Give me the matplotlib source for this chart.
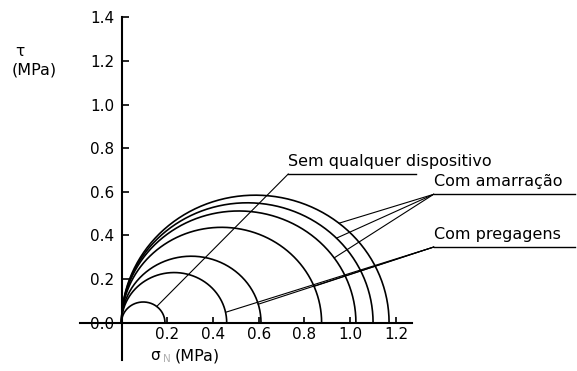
import numpy as np
import matplotlib.pyplot as plt

# Mohr circles, all starting at sigma_3 = 0 (diameter = sigma_1 in MPa)
diameters = [0.19, 0.46, 0.61, 0.875, 1.025, 1.10, 1.17]

xticks = [0.2, 0.4, 0.6, 0.8, 1.0, 1.2]
yticks = [0.0, 0.2, 0.4, 0.6, 0.8, 1.0, 1.2, 1.4]

# leader lines: label, anchor (start of underline), circle index, x where it touches the circle
labels = ['Sem qualquer dispositivo', 'Com amarração', 'Com pregagens']
anchors = [(0.729, 0.682), (1.365, 0.589), (1.365, 0.347)]
underline_end = [1.288, 1.985, 1.985]
targets = [[(0, 0.154)],
           [(6, 0.951), (5, 0.94), (4, 0.93)],
           [(1, 0.455), (2, 0.598), (3, 0.842)]]

W, H = 577, 371
fig = plt.figure(figsize=(W / 100, H / 100), dpi=100)

# axes placed so that origin sits at (121.5, 322.7) px
x0, y0, sx, sy = 121.5, 322.7, 228.7, 218.0
xmin, xmax, ymin, ymax = -0.18, 1.27, -0.17, 1.4
left = (x0 + xmin * sx) / W
right = (x0 + xmax * sx) / W
top = 1 - (y0 - ymax * sy) / H
bottom = 1 - (y0 - ymin * sy) / H
ax = fig.add_axes([left, bottom, right - left, top - bottom])
ax.set_xlim(xmin, xmax)
ax.set_ylim(ymin, ymax)

for s in ['top', 'right']:
    ax.spines[s].set_visible(False)
for s in ['left', 'bottom']:
    ax.spines[s].set_position(('data', 0))
    ax.spines[s].set_linewidth(1.5)

ax.set_xticks(xticks)
ax.set_xticklabels([f'{v:.1f}' for v in xticks])
ax.set_yticks(yticks)
ax.set_yticklabels([f'{v:.1f}' for v in yticks])
ax.tick_params(axis='x', direction='in', length=4.5, width=1.2, pad=3, labelsize=11)
ax.tick_params(axis='y', direction='in', length=5, width=1.2, pad=5, labelsize=11)

t = np.linspace(0, np.pi, 200)
for d in diameters:
    r = d / 2
    ax.plot(r + r * np.cos(t), r * np.sin(t), color='black', lw=1.2)

def on_circle(i, x):
    r = diameters[i] / 2
    return np.sqrt(max(r * r - (x - r) ** 2, 0))

for lab, (ax_x, ax_y), xe, tg in zip(labels, anchors, underline_end, targets):
    ax.plot([ax_x, xe], [ax_y, ax_y], color='black', lw=1.0, clip_on=False)
    ax.text(ax_x, ax_y + 0.025, lab, fontsize=11.5, ha='left', va='bottom',
            clip_on=False)
    for i, xt in tg:
        ax.plot([ax_x, xt], [ax_y, on_circle(i, xt)], color='black',
                lw=0.8, clip_on=False)

# axis titles
fig.text(15 / W, 1 - 51 / H, 'τ', fontsize=11, ha='left', va='center')
fig.text(12 / W, 1 - 70 / H, '(MPa)', fontsize=11.5, ha='left', va='center')
fig.text(150 / W, 1 - 355 / H, 'σ', fontsize=11, ha='left', va='center')
fig.text(163 / W, 1 - 359 / H, 'N', fontsize=7.5, ha='left', va='center',
         color='#b0b0b0')
fig.text(175 / W, 1 - 356 / H, '(MPa)', fontsize=11.5, ha='left', va='center')

fig.savefig('out.png', dpi=100)
